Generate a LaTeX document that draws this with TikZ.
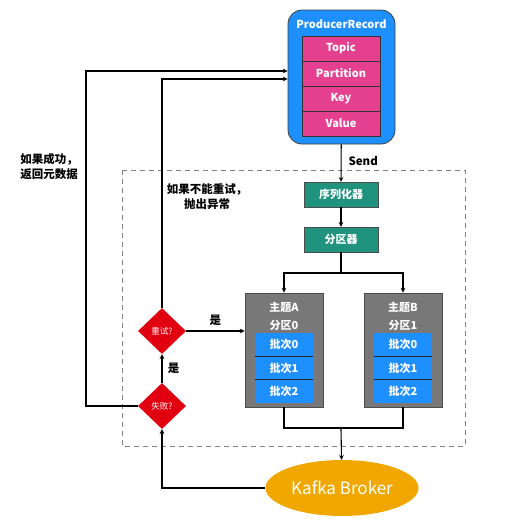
\documentclass[tikz,border=0pt]{standalone}
\usepackage{fontspec}
\setmainfont{Noto Sans CJK SC}
\usepackage{tikz}
\usepackage{xcolor}
\usetikzlibrary{shapes.geometric, arrows, arrows.meta, positioning}

\definecolor{recblue}{HTML}{1E8FFF}
\definecolor{recpink}{HTML}{E5408F}
\definecolor{serteal}{HTML}{1F937E}
\definecolor{topicgray}{HTML}{787878}
\definecolor{failred}{HTML}{E0000F}
\definecolor{brokergold}{HTML}{F0A800}

\begin{document}
\begin{tikzpicture}[x=1pt, y=-1pt]
    \tikzstyle{campo} = [rectangle, minimum width=78pt, minimum height=25pt,
        inner sep=0pt, draw=black!80, fill=recpink, text=white,
        font=\bfseries\fontsize{11}{13}\selectfont]
    \tikzstyle{etapa} = [rectangle, minimum width=74pt, minimum height=25pt,
        inner sep=0pt, draw=black!70, fill=serteal, text=white,
        font=\bfseries\fontsize{11}{13}\selectfont]
    \tikzstyle{topico} = [rectangle, minimum width=78pt, minimum height=114pt,
        inner sep=0pt, draw=black!70, line width=0.8pt, fill=topicgray]
    \tikzstyle{lote} = [rectangle, minimum width=58pt, minimum height=23.3pt,
        inner sep=0pt, fill=recblue, text=white,
        font=\bfseries\fontsize{11}{13}\selectfont]
    \tikzstyle{decisao} = [diamond, minimum width=48pt, minimum height=46pt,
        inner sep=0pt, fill=failred, text=white, font=\fontsize{8.5}{10}\selectfont]
    \tikzstyle{rotulo} = [font=\bfseries\fontsize{11.5}{15}\selectfont, align=center]
    \tikzstyle{branco} = [text=white, font=\bfseries\fontsize{11}{13}\selectfont]
    \tikzstyle{arrow} = [line width=1.1pt,->,>=stealth]
    \tikzstyle{linha} = [line width=1.1pt]

    \useasboundingbox (0,0) rectangle (509,523);

    % ProducerRecord
    \node (rec) [rectangle, rounded corners=14pt, minimum width=107pt,
        minimum height=134pt, draw=black!75, line width=0.8pt, fill=recblue]
        at (341.5,77) {};
    \node [branco] at (341.5,24) {ProducerRecord};
    \node (topic) [campo] at (341,48.5) {Topic};
    \node (partition) [campo] at (341,73.5) {Partition};
    \node (key) [campo] at (341,98.5) {Key};
    \node (value) [campo] at (341,123.5) {Value};

    % zona tracejada
    \draw [dashed, gray, line width=0.8pt, dash pattern=on 5pt off 4pt]
        (122,170) rectangle (465,446);

    \node (ser) [etapa] at (341,194.5) {序列化器};
    \node (part) [etapa] at (341,239.5) {分区器};

    % topicos
    \node (topA) [topico] at (284,350) {};
    \node [branco] at (284,307) {主题A};
    \node [branco] at (284,325) {分区0};
    \node (a0) [lote] at (284,344.7) {批次0};
    \node (a1) [lote] at (284,368) {批次1};
    \node (a2) [lote] at (284,391.3) {批次2};
    \draw [black!85, line width=0.9pt] (a0.south west) -- (a0.south east);
    \draw [black!85, line width=0.9pt] (a1.south west) -- (a1.south east);

    \node (topB) [topico] at (403,350) {};
    \node [branco] at (403,307) {主题B};
    \node [branco] at (403,325) {分区1};
    \node (b0) [lote] at (403,344.7) {批次0};
    \node (b1) [lote] at (403,368) {批次1};
    \node (b2) [lote] at (403,391.3) {批次2};
    \draw [black!85, line width=0.9pt] (b0.south west) -- (b0.south east);
    \draw [black!85, line width=0.9pt] (b1.south west) -- (b1.south east);

    % decisoes
    \node (retry) [decisao] at (162,331) {重试?};
    \node (fail) [decisao] at (162,406) {失败?};

    \node (broker) [ellipse, minimum width=135pt, minimum height=56pt,
        fill=brokergold, text=white, font=\fontsize{17}{20}\selectfont]
        at (342,488) {Kafka Broker};

    \coordinate (split) at (341,273);
    \coordinate (join) at (341,428);
    \coordinate (in1) at (rec.west |- 0,71);
    \coordinate (in2) at (rec.west |- 0,79);
    \coordinate (back) at (86,406);

    \draw [arrow] (rec) -- (ser);
    \node [rotulo, anchor=west] at (345,161) {Send};
    \draw [arrow] (ser) -- (part);
    \draw [linha] (part) -- (split);
    \draw [arrow] (split) -| (topA.north);
    \draw [arrow] (split) -| (topB.north);
    \draw [linha] (topA.south) |- (join) -| (topB.south);
    \draw [arrow] (join) -- (broker);
    \draw [arrow] (broker.west) -| (fail.south);
    \draw [arrow] (fail) -- node [rotulo, right=2pt] {是} (retry);
    \draw [arrow] (retry) -- node [rotulo, above=2pt] {是} (topA.west |- retry);
    \draw [arrow] (retry.north) |- (in2);
    \draw [arrow] (fail.west) -- (back) |- (in1);

    \node [rotulo] at (49,167) {如果成功，\\返回元数据};
    \node [rotulo] at (207,197) {如果不能重试，\\抛出异常};
\end{tikzpicture}
\end{document}
